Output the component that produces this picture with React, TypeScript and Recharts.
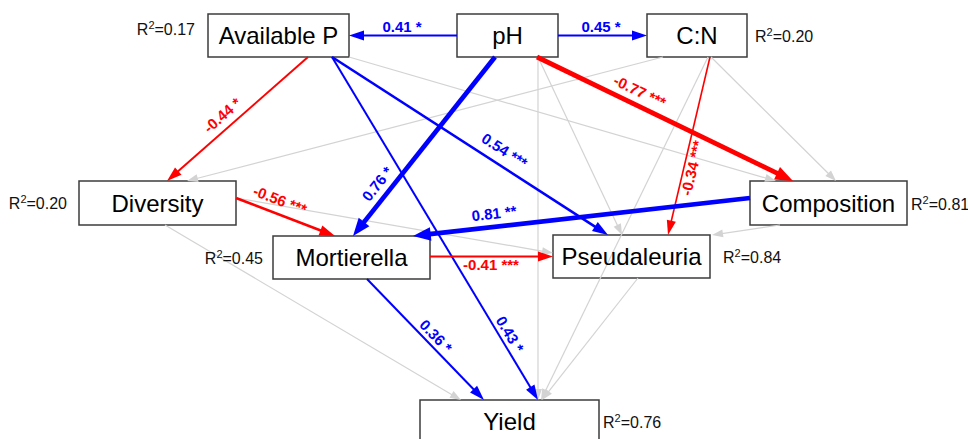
import React from 'react';
import { ScatterChart, Scatter, XAxis, YAxis, ReferenceArea, ReferenceLine } from 'recharts';

const FONT = '"Liberation Sans", Arial, Helvetica, sans-serif';
const BLUE = '#0000ff';
const RED = '#ff0000';
const GREY = '#d3d3d3';

// variables and their explained variance
const variables = ['Available P', 'pH', 'C:N', 'Diversity', 'Composition', 'Mortierella', 'Pseudaleuria', 'Yield'];
const rSquared = [0.17, null, 0.2, 0.2, 0.81, 0.45, 0.84, 0.76];

// significant paths
const pathFrom = ['pH', 'pH', 'Available P', 'pH', 'pH', 'Available P', 'Available P', 'C:N', 'Diversity', 'Composition', 'Mortierella', 'Mortierella'];
const pathTo = ['Available P', 'C:N', 'Diversity', 'Mortierella', 'Composition', 'Pseudaleuria', 'Yield', 'Pseudaleuria', 'Mortierella', 'Mortierella', 'Pseudaleuria', 'Yield'];
const pathCoef = [0.41, 0.45, -0.44, 0.76, -0.77, 0.54, 0.43, -0.34, -0.56, 0.81, -0.41, 0.36];
const pathStars = ['*', '*', '*', '*', '***', '***', '*', '***', '***', '**', '***', '*'];

// non-significant paths (grey)
const nsFrom = ['Available P', 'C:N', 'C:N', 'C:N', 'pH', 'pH', 'Composition', 'Pseudaleuria', 'Diversity', 'Diversity'];
const nsTo = ['Composition', 'Diversity', 'Composition', 'Yield', 'Pseudaleuria', 'Yield', 'Pseudaleuria', 'Yield', 'Yield', 'Pseudaleuria'];

// ---- layout (chart units) ----
// box of each variable: left, right, top, bottom
const boxes: Record<string, number[]> = {
  'Available P': [208, 349, 14, 57],
  pH: [457, 558, 14, 57],
  'C:N': [647, 747, 14, 57],
  Diversity: [79, 236, 181, 225],
  Composition: [750, 907, 181, 225],
  Mortierella: [273, 430, 236, 279],
  Pseudaleuria: [553, 710, 235, 278],
  Yield: [420, 599, 400, 443],
};

// R2 label: side (-1 left, 1 right), gap to box, baseline shift from box centre
const r2Place: Record<string, number[]> = {
  'Available P': [-1, 13, -1],
  'C:N': [1, 8, 6],
  Diversity: [-1, 12, 6],
  Composition: [1, 4, 7],
  Mortierella: [-1, 10, 6],
  Pseudaleuria: [1, 13, 6],
  Yield: [1, 4, 6],
};

// attach points relative to box centres: fromDx, fromDy, toDx, toDy
const pathAnchors = [
  [-50.5, 0, 70.5, 0],
  [50.5, 0, -50, 0],
  [29.5, 21.5, 9.5, -22],
  [-12.5, 21.5, 1.5, -21.5],
  [29.5, 21.5, -35.5, -22],
  [53.5, 21.5, -23.5, -21.5],
  [53.5, 21.5, 28.5, -21.5],
  [13, 21.5, 36.5, -21.5],
  [78.5, -5, -16.5, -21.5],
  [-78.5, -5, 61.5, -21.5],
  [78.5, -1, -78.5, 0],
  [15.5, 21.5, -25.5, -21.5],
];
// label position along path (fraction) and offset above the line (px)
const pathLabelPos = [
  [0.509, 9.5], [0.483, 9.5], [0.548, 13], [0.755, 13.5], [0.378, 14], [0.596, 15],
  [0.823, 10], [0.613, -8], [0.394, 14], [0.755, 13.5], [0.496, -8], [0.528, 10],
];
const nsAnchors = [
  [70.5, 21.5, -52.5, -22],
  [-34, 21.5, 29.5, -22],
  [14, 21.5, 7.5, -22],
  [11, 21.5, 31.5, -21.5],
  [30.5, 21.5, -9.5, -21.5],
  [30.5, 21.5, 28.5, -21.5],
  [-48.5, 22, 80.5, -21.5],
  [6.5, 21.5, 32.5, -21.5],
  [7.5, 22, -48.5, -21.5],
  [78.5, -5, -78.5, -3.5],
];

const centre = (name: string) => {
  const b = boxes[name];
  return { x: (b[0] + b[1]) / 2, y: (b[2] + b[3]) / 2 };
};

const segmentOf = (from: string, to: string, a: number[]) => {
  const f = centre(from);
  const t = centre(to);
  return [
    { x: f.x + a[0], y: f.y + a[1] },
    { x: t.x + a[2], y: t.y + a[3] },
  ];
};

const widthOf = (c: number) => {
  const a = Math.abs(c);
  if (a < 0.35) return 1.6;
  if (a < 0.5) return 2;
  if (a < 0.7) return 2.6;
  return 4.75;
};

type Lbl = { text: string; stars: string; t: number; off: number };

const arrowShape = (color: string, w: number, grey: boolean, lbl?: Lbl) => (p: any) => {
  const { x1, y1, x2, y2 } = p;
  const dx = x2 - x1;
  const dy = y2 - y1;
  const len = Math.hypot(dx, dy) || 1;
  const ux = dx / len;
  const uy = dy / len;
  const head = grey ? 11 : 13 + w;
  const half = grey ? 4 : 3.5 + 0.7 * w;
  const bx = x2 - ux * head;
  const by = y2 - uy * head;
  const pts = `${x2},${y2} ${bx - uy * half},${by + ux * half} ${bx + uy * half},${by - ux * half}`;

  let label = null;
  if (lbl) {
    let ang = (Math.atan2(dy, dx) * 180) / Math.PI;
    if (ang > 90) ang -= 180;
    if (ang <= -90) ang += 180;
    const r = (ang * Math.PI) / 180;
    const cx = x1 + dx * lbl.t + Math.sin(r) * lbl.off;
    const cy = y1 + dy * lbl.t - Math.cos(r) * lbl.off;
    label = (
      <text
        x={cx}
        y={cy}
        transform={`rotate(${ang} ${cx} ${cy})`}
        textAnchor="middle"
        dominantBaseline="central"
        fontSize={15}
        fontWeight="bold"
        fontFamily={FONT}
        fill={color}
      >
        {lbl.text} {lbl.stars}
      </text>
    );
  }

  return (
    <g>
      <line x1={x1} y1={y1} x2={bx + ux} y2={by + uy} stroke={color} strokeWidth={w} />
      <polygon points={pts} fill={color} />
      {label}
    </g>
  );
};

const r2Data = variables
  .map((v, i) => {
    const r2 = rSquared[i];
    if (r2 === null) return null;
    const b = boxes[v];
    const pl = r2Place[v];
    const c = centre(v);
    return {
      x: pl[0] < 0 ? b[0] - pl[1] : b[1] + pl[1],
      y: c.y + pl[2],
      side: pl[0],
      value: r2.toFixed(2),
    };
  })
  .filter(Boolean) as { x: number; y: number; side: number; value: string }[];

const R2Label = (p: any) => {
  const { cx, cy, payload } = p;
  return (
    <text x={cx} y={cy} textAnchor={payload.side < 0 ? 'end' : 'start'} fontSize={16} fontFamily={FONT} fill="#111">
      R<tspan fontSize={11} dy={-6}>2</tspan>
      <tspan dy={6}>={payload.value}</tspan>
    </text>
  );
};

export default function App() {
  return (
    <div style={{ position: 'absolute', left: 0, top: 0, background: '#fff' }}>
      <ScatterChart width={968} height={439} margin={{ top: 0, right: 0, bottom: 0, left: 0 }} style={{ fontFamily: FONT }}>
        <XAxis type="number" dataKey="x" domain={[0, 968]} hide allowDataOverflow />
        <YAxis type="number" dataKey="y" domain={[0, 439]} reversed hide allowDataOverflow />
        {variables.map((v) => {
          const b = boxes[v];
          return (
            <ReferenceArea
              key={v}
              x1={b[0]}
              x2={b[1]}
              y1={b[2]}
              y2={b[3]}
              ifOverflow="visible"
              fill="#fff"
              fillOpacity={1}
              stroke="#3c3c3c"
              strokeWidth={1.5}
              label={{ value: v, position: 'center', fontSize: 24, fill: '#000', fontFamily: FONT }}
            />
          );
        })}
        {nsFrom.map((f, i) => (
          <ReferenceLine
            key={`ns${i}`}
            segment={segmentOf(f, nsTo[i], nsAnchors[i])}
            ifOverflow="visible"
            shape={arrowShape(GREY, 1.2, true)}
          />
        ))}
        {pathFrom.map((f, i) => {
          const c = pathCoef[i];
          return (
            <ReferenceLine
              key={`p${i}`}
              segment={segmentOf(f, pathTo[i], pathAnchors[i])}
              ifOverflow="visible"
              shape={arrowShape(c < 0 ? RED : BLUE, widthOf(c), false, {
                text: c.toFixed(2),
                stars: pathStars[i],
                t: pathLabelPos[i][0],
                off: pathLabelPos[i][1],
              })}
            />
          );
        })}
        <Scatter data={r2Data} shape={R2Label} isAnimationActive={false} />
      </ScatterChart>
    </div>
  );
}
